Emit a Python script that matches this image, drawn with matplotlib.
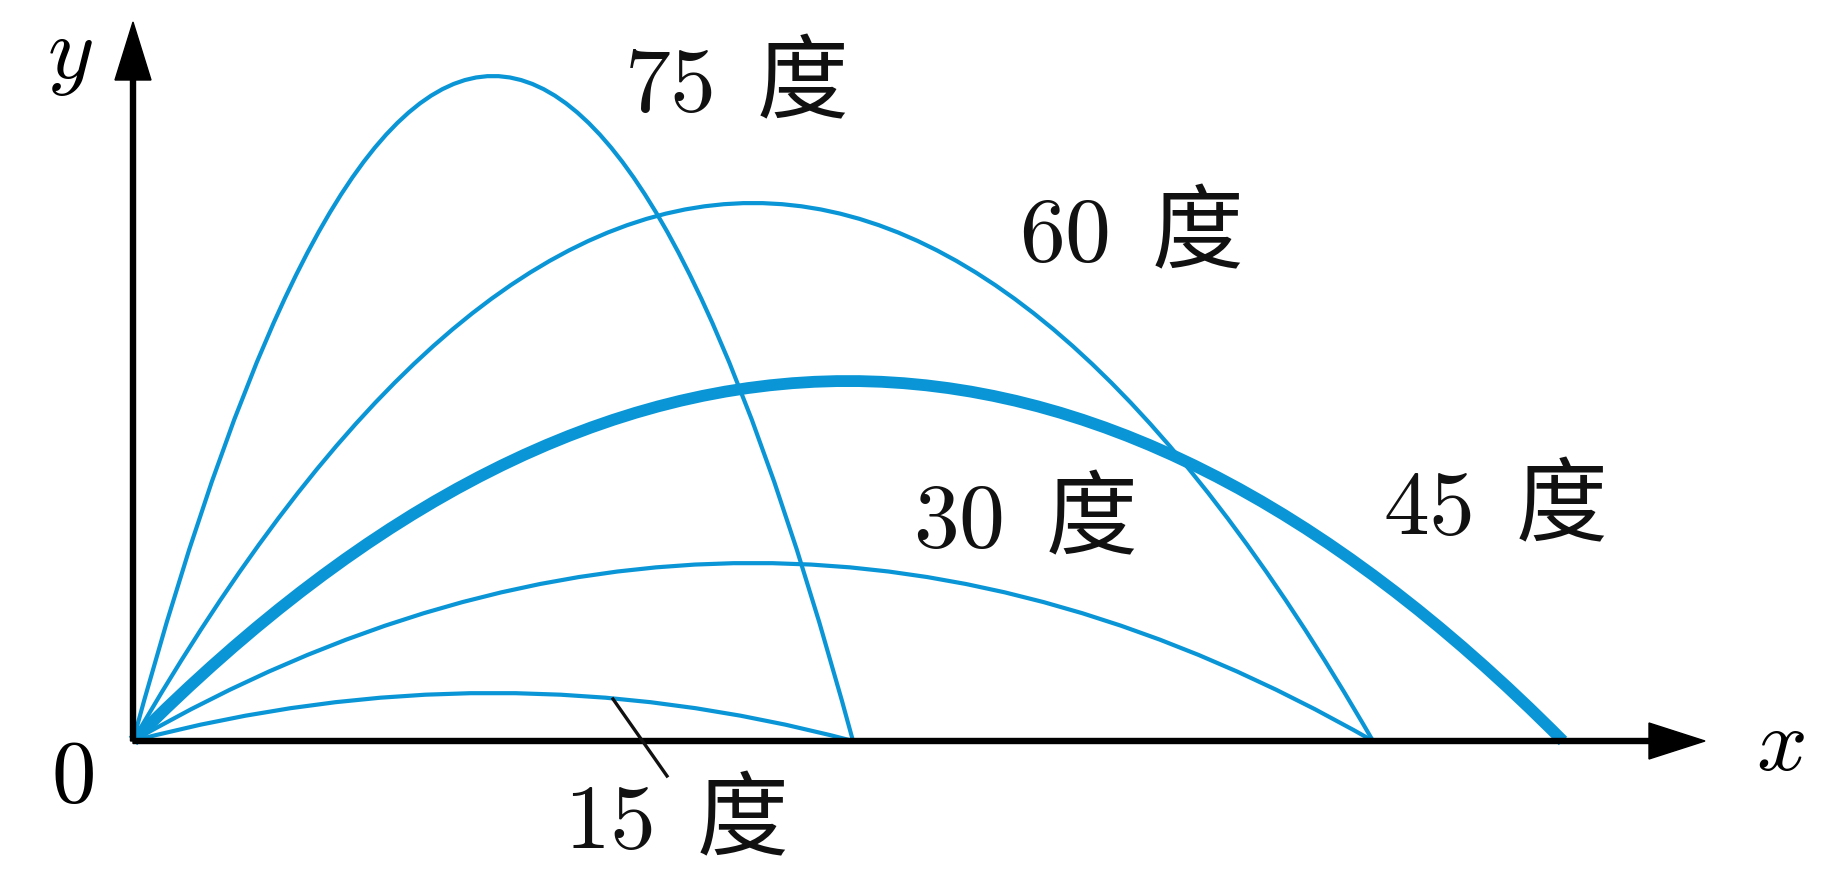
import matplotlib
matplotlib.use("Agg")
import matplotlib.pyplot as plt
from matplotlib.path import Path
from matplotlib.patches import PathPatch

plt.rcParams['mathtext.fontset'] = 'cm'
plt.rcParams['font.family'] = ['Noto Sans CJK SC', 'DejaVu Sans']

# 발사 각도별 궤적 (그림에서 읽은 값, 원점 기준 픽셀 단위)
angles = [15, 30, 45, 60, 75]
ranges = [720, 1240, 1430, 1240, 720]     # 착지 거리
heights = [48, 178, 360, 538, 665]        # 최고 높이
labels = ['$15$  度', '$30$  度', '$45$  度', '$60$  度', '$75$  度']
label_pos = [(542, -80), (891, 221), (1361, 234), (997, 507), (602, 657)]

blue = '#0a96d6'

fig = plt.figure(figsize=(18.45, 8.70), dpi=100)
ax = fig.add_axes([0, 0, 1, 1])
ax.set_xlim(-133, 1845 - 133)
ax.set_ylim(-(870 - 742), 742)
ax.axis('off')

# 포물선: 2차 베지어 곡선 (제어점 = (R/2, 2H))
for a, r, h in zip(angles, ranges, heights):
    verts = [(0, 0), (r / 2, 2 * h), (r, 0)]
    codes = [Path.MOVETO, Path.CURVE3, Path.CURVE3]
    lw = 8.5 if a == 45 else 3.0
    ax.add_patch(PathPatch(Path(verts, codes), fill=False, edgecolor=blue,
                           lw=lw, capstyle='butt', zorder=2))

# 축 화살표
ax.arrow(0, 0, 1705 - 133, 0, width=5, head_width=36, head_length=56,
         length_includes_head=True, color='black', zorder=3)
ax.arrow(0, 0, 0, 742 - 23, width=5, head_width=36, head_length=58,
         length_includes_head=True, color='black', zorder=3)

fs = 66
for s, (x, y) in zip(labels, label_pos):
    ax.text(x, y, s, fontsize=fs, ha='center', va='center', color='#111111')

# 15도 지시선
ax.plot([613 - 133, 667 - 133], [742 - 700, 742 - 777], color='#111111', lw=2.4, zorder=3)

ax.text(72 - 133, 742 - 777, '$0$', fontsize=64, ha='center', va='center')
ax.text(70 - 133, 742 - 53, '$y$', fontsize=64, ha='center', va='center')
ax.text(1780 - 133, 742 - 745, '$x$', fontsize=64, ha='center', va='center')

fig.savefig('out.png', dpi=100, facecolor='white')
